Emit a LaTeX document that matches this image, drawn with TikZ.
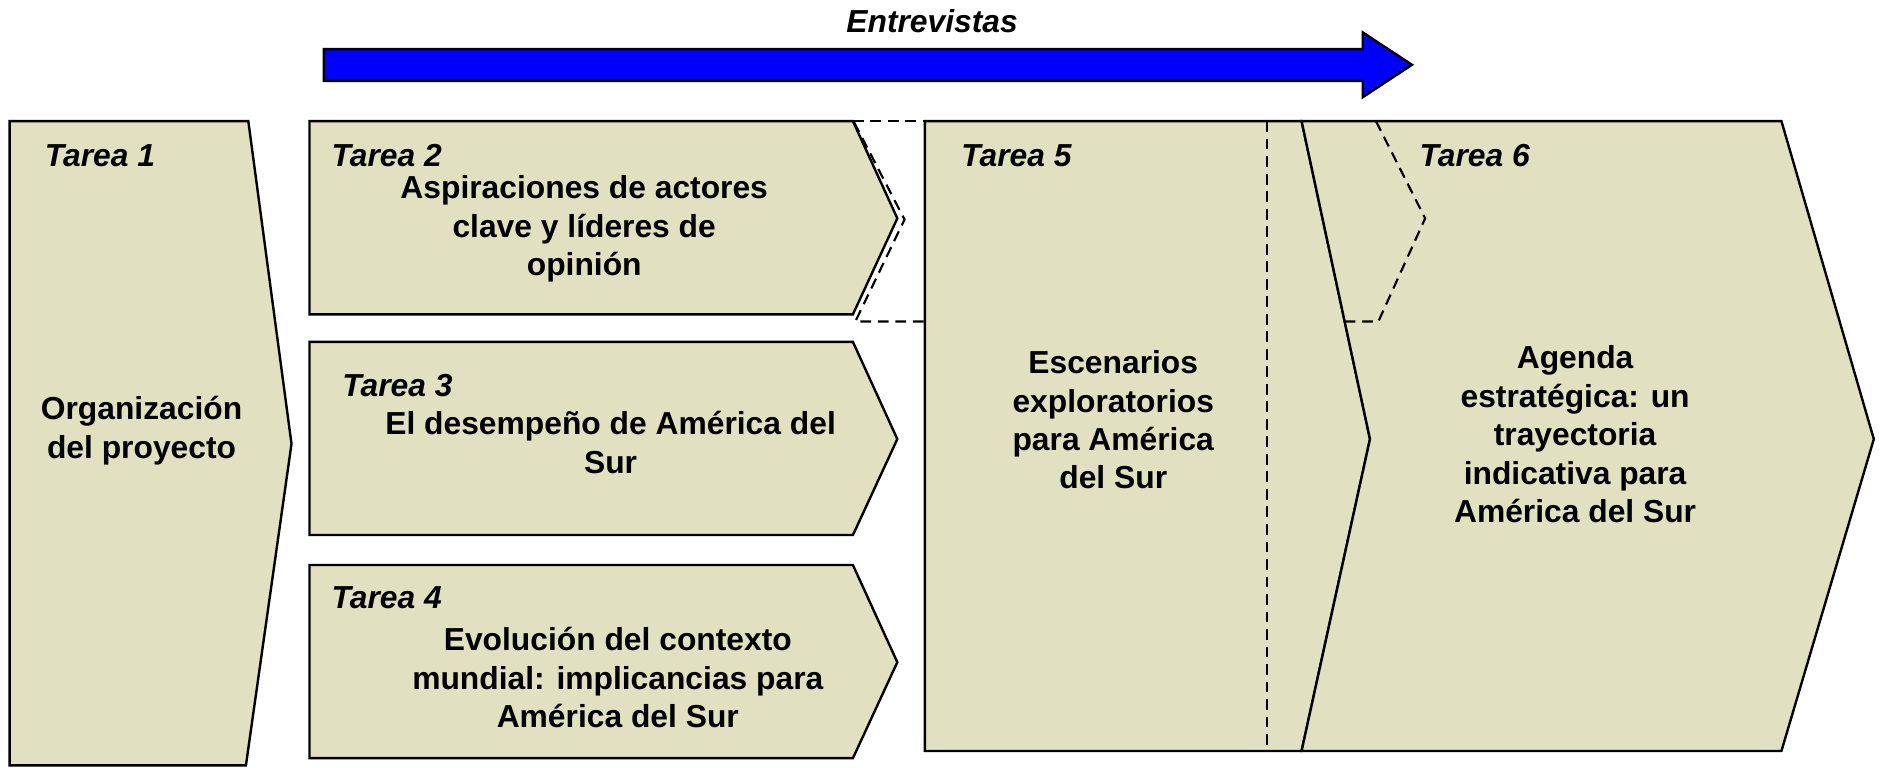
\documentclass[tikz,border=0pt]{standalone}
\usepackage{fontspec}
\setmainfont{Liberation Sans}
\definecolor{tareafill}{RGB}{225,224,192}
\definecolor{flecha}{RGB}{0,0,255}

\begin{document}
\begin{tikzpicture}[x=0.5pt,y=-0.5pt,
  tarea/.style={draw,line width=1pt,fill=tareafill},
  oculto/.style={draw,line width=0.9pt,dashed,dash pattern=on 4.5pt off 2.8pt},
  titulo/.style={anchor=west,inner sep=0pt,font=\fontsize{13.25}{16}\selectfont\bfseries\itshape},
  texto/.style={align=center,inner sep=0pt,font=\fontsize{13.25}{16}\selectfont\bfseries}]
\useasboundingbox (0,0) rectangle (1568,639.4);
% arrow
\draw[line width=1pt,fill=flecha] (270,41) -- (1136,41) -- (1136,27) -- (1177,54) -- (1136,81) -- (1136,67.5) -- (270,67.5) -- cycle;
\node[titulo,anchor=center] (entrevistas) at (777,18) {Entrevistas};
% tareas
\draw[tarea] (8,101) -- (207,101) -- (243,370) -- (205,638) -- (8,638) -- cycle;
\draw[tarea] (258,101) -- (711,101) -- (748,182) -- (711,262) -- (258,262) -- cycle;
\draw[tarea] (258,285) -- (711,285) -- (748,366) -- (711,446) -- (258,446) -- cycle;
\draw[tarea] (258,471) -- (711,471) -- (748,552) -- (711,632) -- (258,632) -- cycle;
\draw[tarea] (771,101) -- (1085,101) -- (1142,366) -- (1085,626) -- (771,626) -- cycle;
\draw[tarea] (1085,101) -- (1485,101) -- (1562,366) -- (1485,626) -- (1085,626) -- (1142,366) -- cycle;
% dashed
\draw[oculto] (711,101) -- (771,101);
\draw[oculto] (712,102) -- (754,183) -- (713,268) -- (771,268);
\draw[oculto] (1056,101) -- (1056,626);
\draw[oculto] (1147,101) -- (1188,182) -- (1149,268) -- (1121,268);
% labels
\node[titulo] (l1) at (37,130) {Tarea 1};
\node[titulo] (l2) at (276,130) {Tarea 2};
\node[titulo] (l3) at (285,321) {Tarea 3};
\node[titulo] (l4) at (276,498) {Tarea 4};
\node[titulo] (l5) at (801,130) {Tarea 5};
\node[titulo] (l6) at (1183,130) {Tarea 6};
\node[texto] (t1) at (118,359) {Organización\\del proyecto};
\node[texto] (t2) at (487,191) {Aspiraciones de actores\\clave y líderes de\\opinión};
\node[texto] (t3) at (509,369) {El desempeño de América del\\Sur};
\node[texto] (t4) at (515,565) {Evolución del contexto\\mundial: implicancias para\\América del Sur};
\node[texto] (t5) at (928,350) {Escenarios\\exploratorios\\para América\\del Sur};
\node[texto] (t6) at (1313,362) {Agenda\\estratégica: un\\trayectoria\\indicativa para\\América del Sur};
\end{tikzpicture}
\end{document}
